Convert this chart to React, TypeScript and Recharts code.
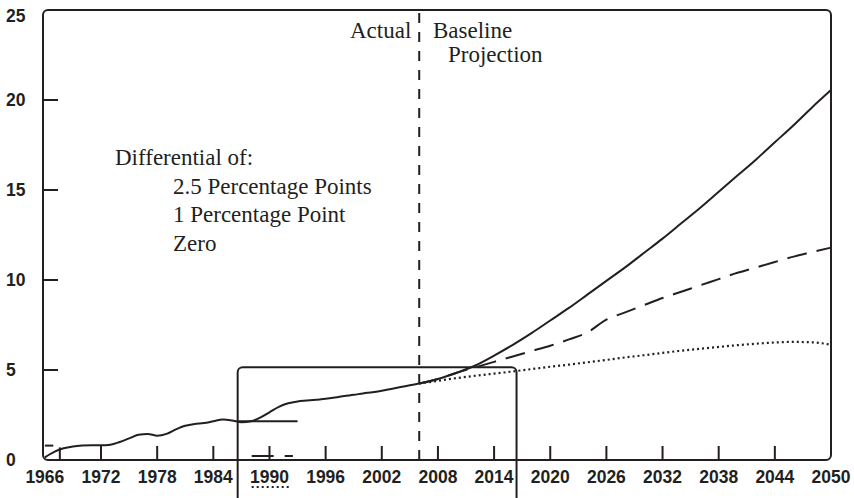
import { LineChart, Line, XAxis, YAxis, ReferenceLine, ReferenceArea } from 'recharts'

const histYears = [
  1966, 1967, 1968, 1969, 1970, 1971, 1972, 1973, 1974, 1975, 1976, 1977, 1978, 1979,
  1980, 1981, 1982, 1983, 1984, 1985, 1986, 1987, 1988, 1989, 1990, 1991, 1992, 1993,
  1994, 1995, 1996, 1997, 1998, 1999, 2000, 2001, 2002, 2003, 2004, 2005, 2006,
]
const actual = [
  0.15, 0.45, 0.65, 0.75, 0.8, 0.82, 0.82, 0.85, 1.0, 1.2, 1.4, 1.45, 1.35, 1.45,
  1.7, 1.9, 2.0, 2.05, 2.15, 2.25, 2.2, 2.1, 2.15, 2.35, 2.65, 2.95, 3.15, 3.25,
  3.3, 3.35, 3.4, 3.47, 3.55, 3.62, 3.7, 3.77, 3.85, 3.95, 4.05, 4.15, 4.25,
]
const projYears = [
  2008, 2010, 2012, 2014, 2016, 2018, 2020, 2022, 2024, 2026, 2028,
  2030, 2032, 2034, 2036, 2038, 2040, 2042, 2044, 2046, 2048, 2050,
]
const diff25 = [
  4.5, 4.85, 5.25, 5.8, 6.4, 7.05, 7.75, 8.45, 9.2, 9.95, 10.7,
  11.5, 12.3, 13.15, 14.0, 14.9, 15.8, 16.7, 17.65, 18.6, 19.6, 20.55,
]
const diff1 = [
  4.5, 4.85, 5.15, 5.45, 5.75, 6.05, 6.35, 6.7, 7.1, 7.8, 8.2,
  8.6, 9.0, 9.35, 9.7, 10.05, 10.4, 10.7, 11.0, 11.3, 11.55, 11.8,
]
const diff0 = [
  4.4, 4.55, 4.68, 4.8, 4.92, 5.05, 5.18, 5.3, 5.43, 5.56, 5.7,
  5.82, 5.95, 6.07, 6.18, 6.28, 6.38, 6.46, 6.53, 6.56, 6.54, 6.4,
]
const xTicks = [1966, 1972, 1978, 1984, 1990, 1996, 2002, 2008, 2014, 2020, 2026, 2032, 2038, 2044, 2050]
const yTicks = [0, 5, 10, 15, 20, 25]

const ink = '#231f20'

const data = [
  ...histYears.map((year, i) => ({
    year,
    a: actual[i],
    b: year === 2006 ? actual[i] : null,
    c: year === 2006 ? actual[i] : null,
  })),
  ...projYears.map((year, i) => ({ year, a: diff25[i], b: diff1[i], c: diff0[i] })),
]

const roundBox = (p: any) => (
  <rect x={p.x} y={p.y} width={p.width} height={p.height} rx={5} ry={5} fill="none" stroke={ink} strokeWidth={2} />
)

const XTick = (p: any) => {
  const last = p.index === xTicks.length - 1
  return (
    <g>
      {p.index > 0 && !last && <line x1={p.x} y1={p.y} x2={p.x} y2={p.y - 14} stroke={ink} strokeWidth={2} />}
      <text x={p.x} y={p.y + 23} textAnchor="middle" fontFamily="Liberation Sans" fontWeight="bold" fontSize={17.5} fill={ink}>
        {p.payload.value}
      </text>
    </g>
  )
}

const YTick = (p: any) => {
  const v = p.payload.value
  return (
    <g>
      {v > 0 && v < 25 && <line x1={p.x} y1={p.y} x2={p.x + 15} y2={p.y} stroke={ink} strokeWidth={2} />}
      <text x={p.x - 37} y={p.y + (v === 25 ? 12 : 6)} textAnchor="start" fontFamily="Liberation Sans" fontWeight="bold" fontSize={17.5} fill={ink}>
        {v}
      </text>
    </g>
  )
}

const serif = { fontFamily: 'Liberation Serif', fontSize: 23, fill: ink }

export default function App() {
  return (
    <div style={{ position: 'absolute', left: 0, top: 0, width: 854, height: 498, background: '#fff' }}>
      <LineChart width={854} height={498} data={data} margin={{ top: 10, right: 23, bottom: 0, left: 0 }}>
        <XAxis
          dataKey="year"
          type="number"
          domain={[1965.8, 2050]}
          ticks={xTicks}
          axisLine={false}
          tickLine={false}
          tickSize={0}
          tickMargin={0}
          height={38}
          tick={XTick}
          interval={0}
        />
        <YAxis
          type="number"
          domain={[0, 25]}
          ticks={yTicks}
          axisLine={false}
          tickLine={false}
          tickSize={0}
          tickMargin={0}
          width={43}
          tick={YTick}
          interval={0}
        />
        <ReferenceArea x1={1965.8} x2={2050} y1={0} y2={25} shape={roundBox} ifOverflow="visible" />
        <ReferenceArea x1={1986.6} x2={2016.4} y1={-3} y2={5.15} shape={roundBox} ifOverflow="visible" />
        <ReferenceLine x={2006} stroke={ink} strokeWidth={2} strokeDasharray="10 9" />
        <ReferenceLine segment={[{ x: 1966, y: 0.8 }, { x: 1966.9, y: 0.8 }]} stroke={ink} strokeWidth={2} ifOverflow="visible" />
        <ReferenceLine segment={[{ x: 1967.6, y: 0 }, { x: 1967.6, y: 0.7 }]} stroke={ink} strokeWidth={2} ifOverflow="visible" />
        <ReferenceLine segment={[{ x: 1986.6, y: 2.15 }, { x: 1993, y: 2.15 }]} stroke={ink} strokeWidth={2} ifOverflow="visible" />
        <ReferenceLine segment={[{ x: 1988.1, y: 0.22 }, { x: 1992.5, y: 0.22 }]} stroke={ink} strokeWidth={2} strokeDasharray="22 11" ifOverflow="visible" />
        <ReferenceLine segment={[{ x: 1988.1, y: -1.5 }, { x: 1992.3, y: -1.5 }]} stroke={ink} strokeWidth={2} strokeDasharray="2 3" ifOverflow="visible" />
        <Line dataKey="c" type="monotone" stroke={ink} strokeWidth={2.2} strokeDasharray="2 3" dot={false} connectNulls={false} isAnimationActive={false} />
        <Line dataKey="b" type="monotone" stroke={ink} strokeWidth={2} strokeDasharray="20 10" dot={false} connectNulls={false} isAnimationActive={false} />
        <Line dataKey="a" type="monotone" stroke={ink} strokeWidth={2} dot={false} isAnimationActive={false} />
      </LineChart>
      <svg width={854} height={498} style={{ position: 'absolute', left: 0, top: 0, pointerEvents: 'none' }}>
        <text x={350} y={38} {...serif}>Actual</text>
        <text x={433} y={38} {...serif}>Baseline</text>
        <text x={448} y={62} {...serif}>Projection</text>
        <text x={115} y={165} {...serif}>Differential of:</text>
        <text x={173} y={194} {...serif}>2.5 Percentage Points</text>
        <text x={173} y={222} {...serif}>1 Percentage Point</text>
        <text x={173} y={251} {...serif}>Zero</text>
      </svg>
    </div>
  )
}
